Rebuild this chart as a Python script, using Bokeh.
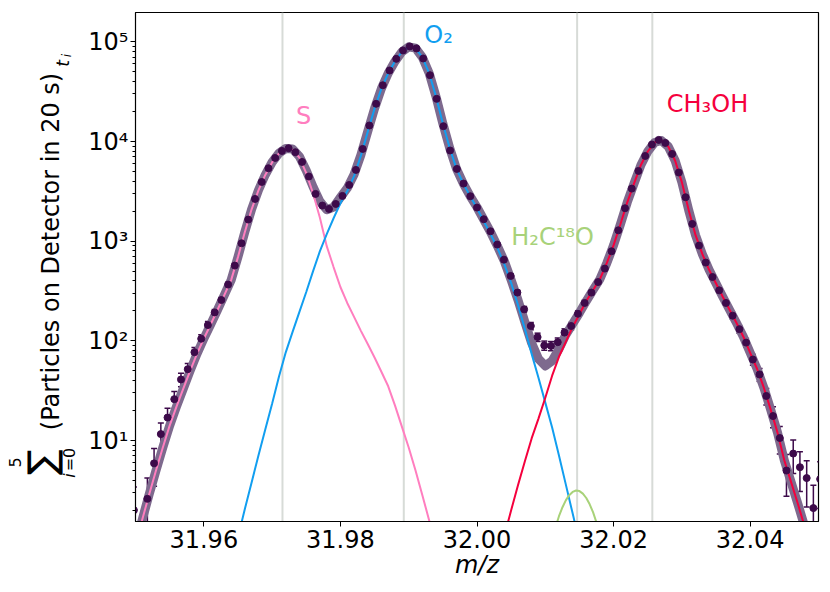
import numpy as np
from math import pi, log10
from bokeh.plotting import figure
from bokeh.layouts import row
from bokeh.models import (Range1d, FixedTicker, PrintfTickFormatter, CustomJSTickFormatter,
                          Span, Label, Whisker, TeeHead, ColumnDataSource)
from bokeh.embed import file_html
from bokeh.resources import INLINE

# ---------------- data ----------------
ion_masses = [31.97152, 31.98928, 32.01466, 32.02567]

data_mz = [
    31.94977, 31.95174, 31.95272, 31.95371, 31.95469, 31.95568, 31.95666, 31.95765, 31.95863, 31.95962,
    31.96060, 31.96159, 31.96257, 31.96356, 31.96454, 31.96553, 31.96651, 31.96750, 31.96848, 31.96947,
    31.97045, 31.97144, 31.97242, 31.97341, 31.97439, 31.97538, 31.97636, 31.97735, 31.97833, 31.97932,
    31.98030, 31.98129, 31.98227, 31.98326, 31.98424, 31.98523, 31.98621, 31.98720, 31.98818, 31.98917,
    31.99015, 31.99114, 31.99212, 31.99311, 31.99409, 31.99508, 31.99606, 31.99705, 31.99803, 31.99902,
    32.00000, 32.00099, 32.00197, 32.00296, 32.00394, 32.00493, 32.00591, 32.00690, 32.00788, 32.00887,
    32.00985, 32.01084, 32.01182, 32.01281, 32.01379, 32.01478, 32.01576, 32.01675, 32.01773, 32.01872,
    32.01970, 32.02069, 32.02167, 32.02266, 32.02364, 32.02463, 32.02561, 32.02660, 32.02758, 32.02857,
    32.02955, 32.03054, 32.03152, 32.03251, 32.03349, 32.03448, 32.03546, 32.03645, 32.03743, 32.03842,
    32.03940, 32.04039, 32.04137, 32.04236, 32.04334, 32.04433, 32.04531, 32.04630, 32.04728, 32.04827,
    32.04925, 32.05024]

data_counts = [
    2.0, 2.6, 5.9, 11.6, 17, 26, 41, 52, 77, 105,
    144, 193, 257, 367, 569, 953, 1648, 2653, 3930, 5395,
    6843, 8050, 8570, 7810, 6240, 4455, 2980, 2277, 2105, 2362,
    2845, 3665, 5190, 8430, 14480, 23900, 36700, 51600, 67500, 82000,
    90000, 85900, 68100, 46300, 26800, 14250, 8130, 5310, 3785, 2825,
    2175, 1660, 1257, 925, 653, 448, 305, 207, 141, 109,
    90, 89, 97, 121, 141, 187, 240, 305, 389, 531,
    792, 1285, 2140, 3370, 5070, 7165, 9330, 10380, 9680, 7510,
    4887, 2760, 1490, 904, 610, 437, 321, 240, 179, 131,
    96, 65, 46, 28, 17.6, 10.6, 5.0, 7.4, 5.4, 4.2,
    2.1, 4.1]

curve_mz = [
    31.950, 31.951, 31.952, 31.953, 31.954, 31.955, 31.956, 31.957, 31.958, 31.959,
    31.960, 31.961, 31.962, 31.963, 31.964, 31.965, 31.966, 31.967, 31.968, 31.969,
    31.970, 31.971, 31.972, 31.973, 31.974, 31.975, 31.976, 31.977, 31.978, 31.979,
    31.980, 31.981, 31.982, 31.983, 31.984, 31.985, 31.986, 31.987, 31.988, 31.989,
    31.990, 31.991, 31.992, 31.993, 31.994, 31.995, 31.996, 31.997, 31.998, 31.999,
    32.000, 32.001, 32.002, 32.003, 32.004, 32.005, 32.006, 32.007, 32.008, 32.009,
    32.010, 32.011, 32.012, 32.013, 32.014, 32.015, 32.016, 32.017, 32.018, 32.019,
    32.020, 32.021, 32.022, 32.023, 32.024, 32.025, 32.026, 32.027, 32.028, 32.029,
    32.030, 32.031, 32.032, 32.033, 32.034, 32.035, 32.036, 32.037, 32.038, 32.039,
    32.040, 32.041, 32.042, 32.043, 32.044, 32.045, 32.046, 32.047, 32.048, 32.049,
    32.050]

N = None
total_fit = [
    0.89, 1.62, 2.88, 5.01, 8.51, 14.1, 21.9, 33.1, 50.1, 74.1,
    105, 146, 204, 288, 407, 693, 1232, 2093, 3243, 4637,
    6190, 7630, 8510, 8414, 7079, 5129, 3508, 2512, 2066, 2200,
    2746, 3402, 4672, 7320, 12590, 21450, 33930, 48455, 63850, 79445,
    89140, 86505, 69983, 48422, 28181, 15140, 8610, 5309, 3784, 2825,
    2190, 1640, 1230, 891, 631, 407, 257, 155, 95, 66,
    56, 63, 83, 115, 148, 191, 251, 324, 417, 602,
    912, 1479, 2455, 3802, 5821, 7943, 9772, 10230, 8913, 6457,
    3890, 2042, 1148, 741, 513, 376, 275, 204, 151, 110,
    75.9, 52.5, 33.9, 20.4, 12.0, 6.3, 3.8, 2.29, 1.35, 0.79,
    0.47]

s_fit = [
    0.89, 1.62, 2.88, 5.01, 8.51, 14.1, 21.9, 33.1, 50.1, 74.1,
    105, 146, 204, 288, 407, 692, 1230, 2089, 3236, 4624,
    6166, 7586, 8430, 8290, 6884, 4820, 3008, 1718, 891, 550,
    347, 240, 174, 126, 93, 68, 49, 35, 22.4, 13.8,
    8.5, 5.0, 2.82, 1.58, 0.87, N, N, N, N, N,
    N, N, N, N, N, N, N, N, N, N,
    N, N, N, N, N, N, N, N, N, N,
    N, N, N, N, N, N, N, N, N, N,
    N, N, N, N, N, N, N, N, N, N,
    N, N, N, N, N, N, N, N, N, N,
    N]

o2_fit = [
    N, N, N, N, N, N, N, N, N, N,
    N, N, N, N, N, 1.07, 2.04, 3.80, 7.08, 12.9,
    23.4, 43.7, 76.7, 123, 195, 309, 501, 794, 1175, 1698,
    2399, 3162, 4498, 7194, 12500, 21380, 33880, 48420, 63830, 79430,
    89130, 86500, 69980, 48420, 28180, 15140, 8610, 5309, 3784, 2825,
    2138, 1585, 1175, 851, 589, 380, 229, 132, 74, 42.7,
    24.0, 13.5, 7.08, 3.63, 1.86, 0.95, N, N, N, N,
    N, N, N, N, N, N, N, N, N, N,
    N, N, N, N, N, N, N, N, N, N,
    N, N, N, N, N, N, N, N, N, N,
    N]

ch3oh_fit = [
    N, N, N, N, N, N, N, N, N, N,
    N, N, N, N, N, N, N, N, N, N,
    N, N, N, N, N, N, N, N, N, N,
    N, N, N, N, N, N, N, N, N, N,
    N, N, N, N, N, N, N, N, N, N,
    N, N, N, N, 1.10, 2.00, 3.55, 6.17, 10.5, 16.6,
    26.9, 44.7, 69.2, 97.7, 138, 185, 251, 324, 417, 602,
    912, 1479, 2455, 3802, 5821, 7943, 9772, 10230, 8913, 6457,
    3890, 2042, 1148, 741, 513, 376, 275, 204, 151, 110,
    75.9, 52.5, 33.9, 20.4, 12.0, 6.3, 3.8, 2.29, 1.35, 0.79,
    0.47]

h2c18o_mz = [32.0115, 32.0120, 32.0125, 32.0130, 32.0135, 32.0140, 32.0145,
             32.0150, 32.0155, 32.0160, 32.0165, 32.0170, 32.0175, 32.0180]
h2c18o_fit = [1.35, 1.74, 2.13, 2.51, 2.83, 3.05, 3.15,
              3.11, 2.93, 2.65, 2.29, 1.90, 1.50, 1.13]

x_ticks = [31.96, 31.98, 32.00, 32.02, 32.04]
y_major = [10, 100, 1000, 10000, 100000]
y_minor = [m * 10 ** e for e in range(0, 5) for m in range(2, 10)]

# ---------------- style ----------------
FONT = "DejaVu Sans"
C_DATA = "#3d0a4a"
C_TOTAL = "#7e6a8e"
C_S = "#ff7ebf"
C_O2 = "#119ef0"
C_CH3OH = "#f5003d"
C_H2C18O = "#a8d279"
C_ION = "#d7dbd7"

PAGE_W, PAGE_H = 830, 592
LW = 78                      # width of the strip holding the y-axis title
W, H = PAGE_W - LW, PAGE_H
X0, X1 = 31.95, 32.05
Y0, Y1 = 1.54, 1.97e5
# frame position on the page
PL, PR, PT, PB = 135, 818, 12, 521

p = figure(width=W, height=H, x_range=Range1d(X0, X1), y_range=Range1d(Y0, Y1),
           y_axis_type="log", output_backend="svg", toolbar_location=None,
           min_border_left=PL - LW, min_border_right=PAGE_W - PR,
           min_border_top=PT, min_border_bottom=PAGE_H - PB,
           background_fill_color="white", border_fill_color="white")
p.grid.visible = False
p.outline_line_color = "black"
p.outline_line_width = 1.2
p.outline_line_alpha = 1.0


def dx(xp):
    return X0 + (xp - PL) / (PR - PL) * (X1 - X0)


def dy(yp):
    return 10 ** (log10(Y0) + (PB - yp) / (PB - PT) * (log10(Y1) - log10(Y0)))


# axes
for ax in (p.xaxis[0], p.yaxis[0]):
    ax.axis_line_color = "black"
    ax.major_tick_line_color = "black"
    ax.minor_tick_line_color = "black"
    ax.major_tick_out = 5
    ax.major_tick_in = 0
    ax.minor_tick_out = 3
    ax.minor_tick_in = 0
    ax.major_label_text_font = FONT
    ax.major_label_text_font_size = "24px"
    ax.major_label_text_color = "black"

p.xaxis.ticker = FixedTicker(ticks=x_ticks)
p.xaxis.formatter = PrintfTickFormatter(format="%.2f")
p.xaxis.minor_tick_line_color = None
p.xaxis.major_label_standoff = 3
p.xaxis.axis_label = "m/z"
p.xaxis.axis_label_text_font = FONT
p.xaxis.axis_label_text_font_size = "24px"
p.xaxis.axis_label_text_font_style = "italic"
p.xaxis.axis_label_text_color = "black"
p.xaxis.axis_label_standoff = 0

p.yaxis.ticker = FixedTicker(ticks=y_major, minor_ticks=y_minor)
p.yaxis.formatter = CustomJSTickFormatter(code="""
const sup = {"0":"\u2070","1":"\u00b9","2":"\u00b2","3":"\u00b3","4":"\u2074",
             "5":"\u2075","6":"\u2076","7":"\u2077","8":"\u2078","9":"\u2079","-":"\u207b"};
const e = Math.round(Math.log10(tick));
return "10" + String(e).split("").map(c => sup[c]).join("");
""")
p.yaxis.major_label_standoff = 2

# ion mass reference lines
for m in ion_masses:
    p.add_layout(Span(location=m, dimension="height", line_color=C_ION,
                      line_width=2, level="underlay"))

# fits
p.line(curve_mz, np.array(total_fit, dtype=float), line_width=9, color=C_TOTAL,
       line_join="round", line_cap="round")
p.line(curve_mz, np.array(s_fit, dtype=float), line_width=2, color=C_S)
p.line(curve_mz, np.array(o2_fit, dtype=float), line_width=2, color=C_O2)
p.line(curve_mz, np.array(ch3oh_fit, dtype=float), line_width=2, color=C_CH3OH)
p.line(h2c18o_mz, h2c18o_fit, line_width=2, color=C_H2C18O)

# data with Poisson error bars
counts = np.array(data_counts, dtype=float)
err = np.sqrt(counts)
src = ColumnDataSource(dict(x=data_mz, y=counts, lo=counts - err, hi=counts + err))
p.add_layout(Whisker(source=src, base="x", lower="lo", upper="hi",
                     line_color=C_DATA, line_width=1.5,
                     upper_head=TeeHead(size=6, line_color=C_DATA, line_width=1.5),
                     lower_head=TeeHead(size=6, line_color=C_DATA, line_width=1.5)))
p.scatter("x", "y", source=src, size=7, color=C_DATA)


def lab(fig, text, x, y, color="black", size="24px", angle=0.0, style="normal"):
    fig.add_layout(Label(x=x, y=y, text=text, text_color=color,
                         text_font=FONT, text_font_size=size, text_font_style=style,
                         angle=angle, text_align="center", text_baseline="middle"))


# species labels (positions given in page pixels)
lab(p, "S", dx(303), dy(115), C_S)
lab(p, "O\u2082", dx(438), dy(34), C_O2)
lab(p, "H\u2082C\u00b9\u2078O", dx(552), dy(236), C_H2C18O)
lab(p, "CH\u2083OH", dx(707), dy(103), C_CH3OH)

# strip with the composed, rotated y-axis title.
# In a row, its frame is aligned with the main frame (page y 12..521),
# so the y range is set so that data y equals page y.
t = figure(width=LW, height=H, x_range=Range1d(0, LW), y_range=Range1d(PB, PT),
           output_backend="svg", toolbar_location=None, min_border=0,
           x_axis_location=None, y_axis_location=None,
           background_fill_color="white", border_fill_color="white")
t.outline_line_color = None
t.grid.visible = False
lab(t, "(Particles on Detector in 20 s)", 50, 251, angle=pi / 2)
lab(t, "t", 62, 63, size="17px", angle=pi / 2, style="italic")
lab(t, "i", 66, 55, size="12px", angle=pi / 2, style="italic")
lab(t, "\u2211", 41, 462, size="38px", angle=pi / 2)
lab(t, "5", 14, 462, size="16px", angle=pi / 2)
lab(t, "i", 69, 475, size="16px", angle=pi / 2, style="italic")
lab(t, "=0", 69, 459, size="16px", angle=pi / 2)

layout = row(t, p)
open("out.html", "w").write(file_html(layout, INLINE))
